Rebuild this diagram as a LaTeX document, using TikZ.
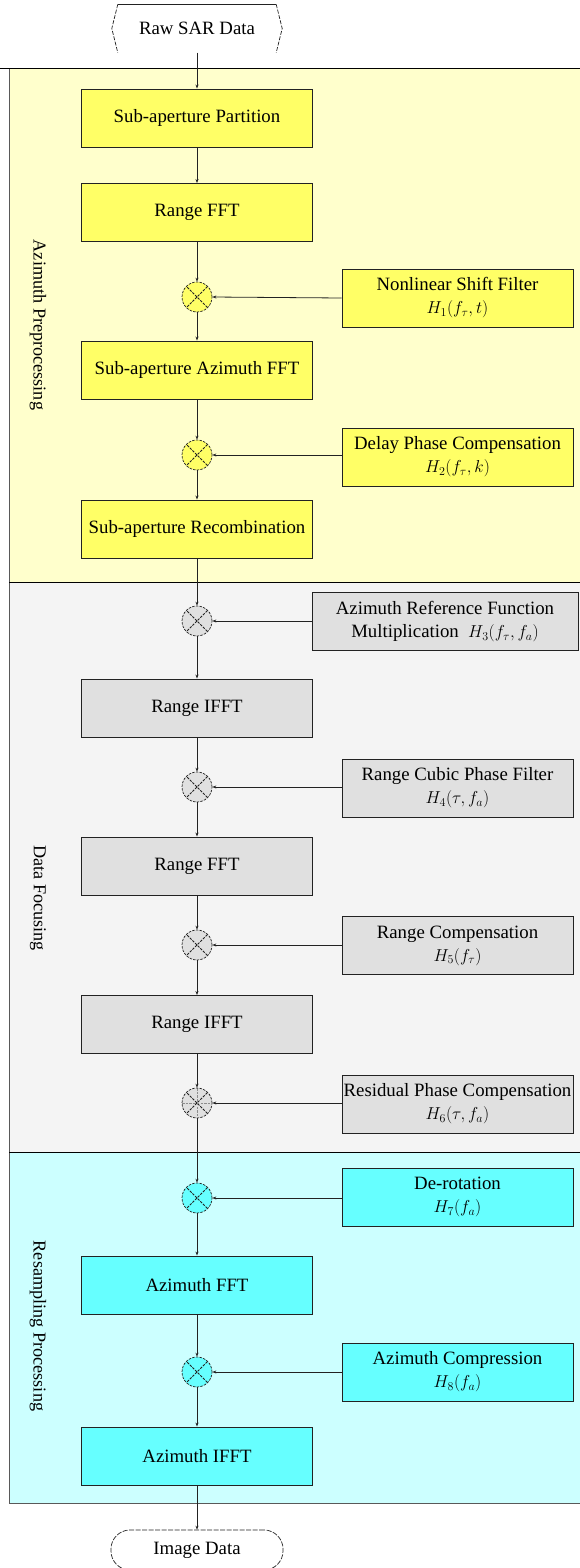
\documentclass[tikz,border=0pt]{standalone}
\usepackage{fontspec}
\setmainfont{Liberation Serif}
\usetikzlibrary{arrows.meta}
\definecolor{yellowbg}{HTML}{FFFFCC}
\definecolor{yellowbox}{HTML}{FFFF66}
\definecolor{graybg}{HTML}{F4F4F4}
\definecolor{graybox}{HTML}{E0E0E0}
\definecolor{cyanbg}{HTML}{CCFFFF}
\definecolor{cyanbox}{HTML}{66FFFF}
\definecolor{lineclr}{HTML}{222222}
\tikzset{
  panel/.style={draw=black!65, line width=0.8pt},
  procbox/.style={draw=lineclr, line width=0.9pt, minimum width=231pt, minimum height=58pt, inner sep=0pt, align=center},
  filterbox/.style={procbox},
  multnode/.style={circle, draw=lineclr, line width=0.7pt, dash pattern=on 2.5pt off 1.2pt, minimum size=30pt, inner sep=0pt,
    path picture={\draw[lineclr, line width=0.8pt] (path picture bounding box.south west) -- (path picture bounding box.north east)
      (path picture bounding box.north west) -- (path picture bounding box.south east);}},
  multplus/.style={multnode, path picture={\draw[lineclr, line width=0.8pt] (path picture bounding box.south west) -- (path picture bounding box.north east)
      (path picture bounding box.north west) -- (path picture bounding box.south east);
      \draw[black!45, line width=0.5pt] (path picture bounding box.north) -- (path picture bounding box.south)
      (path picture bounding box.west) -- (path picture bounding box.east);}},
  flow/.style={draw=lineclr, line width=0.8pt, -{Stealth[length=4pt,width=3pt]}},
  sidelabel/.style={rotate=-90, font=\fontsize{18.2}{22}\selectfont},
  terminal/.style={minimum width=170pt, minimum height=48pt, inner sep=0pt}
}
\begin{document}
\begin{tikzpicture}[x=1pt, y=-1pt, font=\fontsize{18.8}{24}\selectfont]
\useasboundingbox (0,0) rectangle (579,1568);
\fill[white] (0,0) rectangle (579,1568);

% panels
\filldraw[panel, fill=yellowbg] (9,68) rectangle (582,582);
\filldraw[panel, fill=graybg] (9,582) rectangle (582,1152);
\filldraw[panel, fill=cyanbg] (9,1152) rectangle (582,1503);
\draw[black, line width=0.9pt] (0,68) -- (582,68);
\draw[black, line width=0.9pt] (9,582) -- (582,582);
\draw[black, line width=0.9pt] (9,1152) -- (582,1152);

% side labels
\node[sidelabel] (lab1) at (38,325) {Azimuth Preprocessing};
\node[sidelabel] (lab2) at (38,898) {Data Focusing};
\node[sidelabel] (lab3) at (38,1326) {Resampling Processing};

% terminals
\node[terminal] (raw) at (197,28.5) {Raw SAR Data};
\draw[lineclr, line width=0.7pt] ([xshift=6pt]raw.north west) -- ([xshift=-6pt]raw.north east);
\draw[lineclr, line width=0.7pt, dash pattern=on 4pt off 1.5pt] ([xshift=6pt]raw.north west) -- (raw.west) -- ([xshift=6pt]raw.south west);
\draw[lineclr, line width=0.7pt, dash pattern=on 4pt off 1.5pt] ([xshift=-6pt]raw.north east) -- (raw.east) -- ([xshift=-6pt]raw.south east);

\node[terminal, draw=lineclr, line width=0.7pt, dash pattern=on 5pt off 1.5pt, rounded corners=19pt, minimum height=40pt, minimum width=172pt] (img) at (197,1550) {Image Data};

% yellow section
\node[procbox, fill=yellowbox] (b1) at (197,118) {Sub-aperture Partition};
\node[procbox, fill=yellowbox] (b2) at (197,212.5) {Range FFT};
\node[multnode, fill=yellowbox] (m1) at (197,297) {};
\node[filterbox, fill=yellowbox] (f1) at (457.5,298) {Nonlinear Shift Filter\\[-1pt] $H_1\bigl(f_\tau,t\bigr)$};
\node[procbox, fill=yellowbox] (b3) at (197,370) {Sub-aperture Azimuth FFT};
\node[multnode, fill=yellowbox] (m2) at (197,455) {};
\node[filterbox, fill=yellowbox] (f2) at (457.5,457) {Delay Phase Compensation\\[-1pt] $H_2\bigl(f_\tau,k\bigr)$};
\node[procbox, fill=yellowbox] (b4) at (197,529) {Sub-aperture Recombination};

% gray section
\node[multnode, fill=graybox] (m3) at (197,621) {};
\node[filterbox, fill=graybox, minimum width=266pt] (f3) at (445,621.5) {Azimuth Reference Function\\[-1pt] Multiplication~ $H_3\bigl(f_\tau,f_a\bigr)$};
\node[procbox, fill=graybox] (b5) at (197,708) {Range IFFT};
\node[multnode, fill=graybox] (m4) at (197,787) {};
\node[filterbox, fill=graybox] (f4) at (457.5,788) {Range Cubic Phase Filter\\[-1pt] $H_4\bigl(\tau,f_a\bigr)$};
\node[procbox, fill=graybox] (b6) at (197,866) {Range FFT};
\node[multnode, fill=graybox] (m5) at (197,945) {};
\node[filterbox, fill=graybox] (f5) at (457.5,945.5) {Range Compensation\\[-1pt] $H_5\bigl(f_\tau\bigr)$};
\node[procbox, fill=graybox] (b7) at (197,1024.5) {Range IFFT};
\node[multplus, fill=graybox] (m6) at (197,1103) {};
\node[filterbox, fill=graybox] (f6) at (457.5,1104) {Residual Phase Compensation\\[-1pt] $H_6\bigl(\tau,f_a\bigr)$};

% cyan section
\node[multnode, fill=cyanbox] (m7) at (197,1198) {};
\node[filterbox, fill=cyanbox] (f7) at (457.5,1197) {De-rotation\\[-1pt] $H_7\bigl(f_a\bigr)$};
\node[procbox, fill=cyanbox] (b8) at (197,1285) {Azimuth FFT};
\node[multnode, fill=cyanbox] (m8) at (197,1372) {};
\node[filterbox, fill=cyanbox] (f8) at (457.5,1372) {Azimuth Compression\\[-1pt] $H_8\bigl(f_a\bigr)$};
\node[procbox, fill=cyanbox] (b9) at (197,1456) {Azimuth IFFT};

% main flow
\draw[flow] (raw.south) -- (b1.north);
\draw[flow] (b1) -- (b2);
\draw[flow] (b2) -- (m1);
\draw[flow] (m1) -- (b3);
\draw[flow] (b3) -- (m2);
\draw[flow] (m2) -- (b4);
\draw[flow] (b4) -- (m3);
\draw[flow] (m3) -- (b5);
\draw[flow] (b5) -- (m4);
\draw[flow] (m4) -- (b6);
\draw[flow] (b6) -- (m5);
\draw[flow] (m5) -- (b7);
\draw[flow] (b7) -- (m6);
\draw[flow] (m6) -- (m7);
\draw[flow] (m7) -- (b8);
\draw[flow] (b8) -- (m8);
\draw[flow] (m8) -- (b9);
\draw[flow] (b9) -- (img);

% filter inputs
\draw[flow] (f1.west) -- (m1.east);
\draw[flow] (f2.west |- m2) -- (m2.east);
\draw[flow] (f3.west |- m3) -- (m3.east);
\draw[flow] (f4.west |- m4) -- (m4.east);
\draw[flow] (f5.west |- m5) -- (m5.east);
\draw[flow] (f6.west |- m6) -- (m6.east);
\draw[flow] (f7.west |- m7) -- (m7.east);
\draw[flow] (f8.west |- m8) -- (m8.east);
\end{tikzpicture}
\end{document}
